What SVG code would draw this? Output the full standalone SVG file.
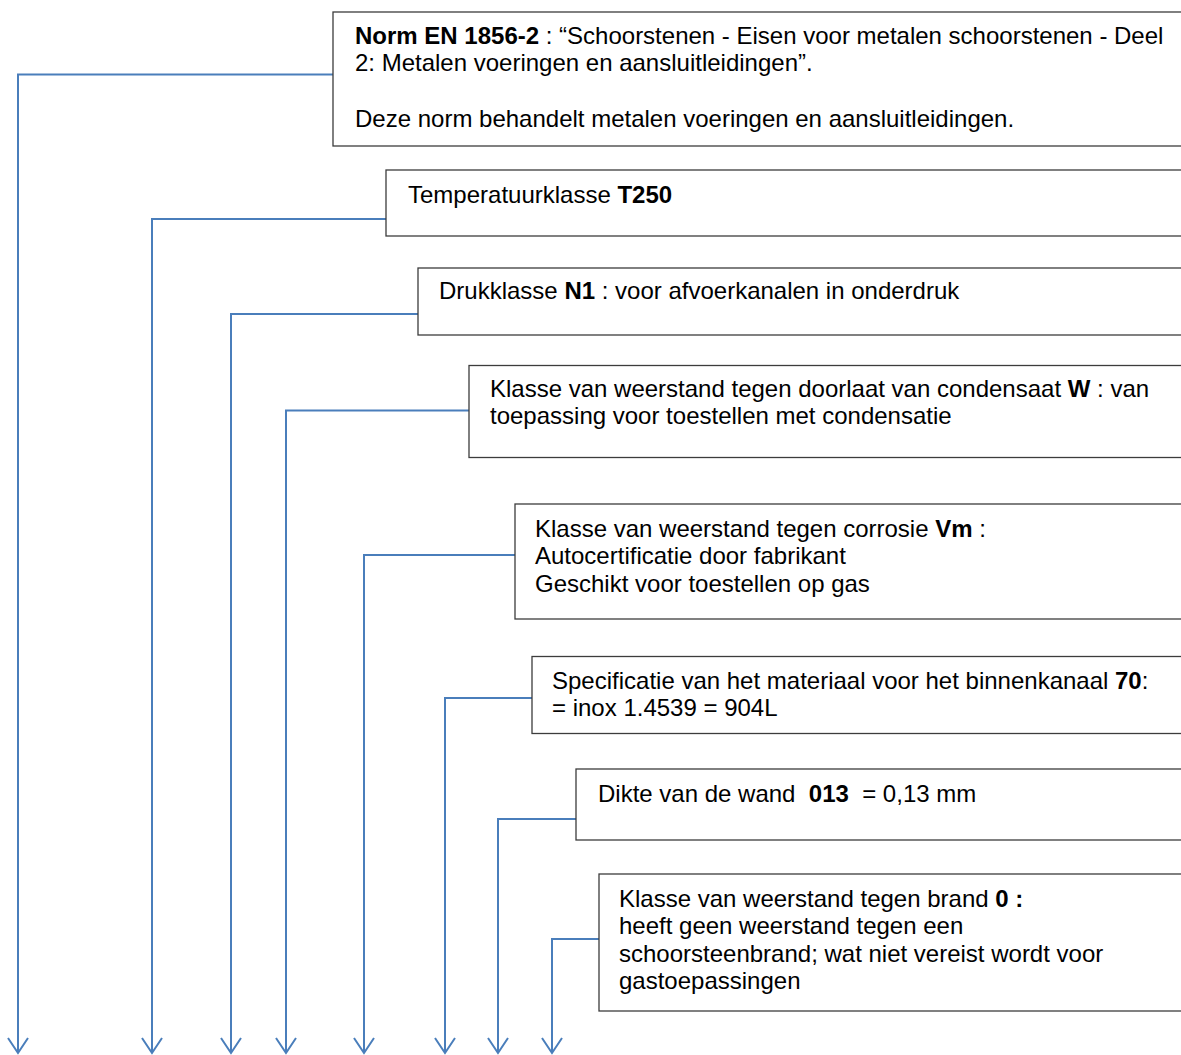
<svg xmlns="http://www.w3.org/2000/svg" width="1181" height="1055" viewBox="0 0 1181 1055">
<style>
.box{fill:#ffffff;stroke:#3c3c3c;stroke-width:1.3}
.t{font-family:"Liberation Sans",Arial,sans-serif;font-size:24px;fill:#000;white-space:pre}
.b{font-weight:bold}
.c{fill:none;stroke:#4a7ebb;stroke-width:2}
</style>
<defs>
<marker id="arr" markerUnits="userSpaceOnUse" viewBox="-1 -11 18 22" markerWidth="18" markerHeight="22" refX="15" refY="0" orient="auto">
<path d="M0,-10 L15,0 L0,10" fill="none" stroke="#4a7ebb" stroke-width="2"/>
</marker>
</defs>
<rect width="1181" height="1055" fill="#ffffff"/>
<g id="connectors">
<path class="c" d="M333,74.5 H18 V1053" marker-end="url(#arr)"/>
<path class="c" d="M386,219 H152 V1053" marker-end="url(#arr)"/>
<path class="c" d="M418,314 H231 V1053" marker-end="url(#arr)"/>
<path class="c" d="M469,410.5 H286 V1053" marker-end="url(#arr)"/>
<path class="c" d="M515,555 H364 V1053" marker-end="url(#arr)"/>
<path class="c" d="M532,698 H445 V1053" marker-end="url(#arr)"/>
<path class="c" d="M576,819 H498 V1053" marker-end="url(#arr)"/>
<path class="c" d="M599,939 H552 V1053" marker-end="url(#arr)"/>
</g>
<g id="norm">
<rect class="box" x="333" y="12" width="900" height="134"/>
<text class="t" x="355" y="43.5"><tspan class="b">Norm EN 1856-2</tspan> : “Schoorstenen - Eisen voor metalen schoorstenen - Deel</text>
<text class="t" x="355" y="71">2: Metalen voeringen en aansluitleidingen”.</text>
<text class="t" x="355" y="126.5">Deze norm behandelt metalen voeringen en aansluitleidingen.</text>
</g>
<g id="temperatuur">
<rect class="box" x="386" y="170" width="850" height="66"/>
<text class="t" x="408" y="203">Temperatuurklasse <tspan class="b">T250</tspan></text>
</g>
<g id="druk">
<rect class="box" x="418" y="268" width="820" height="67"/>
<text class="t" x="439" y="299">Drukklasse <tspan class="b">N1</tspan> : voor afvoerkanalen in onderdruk</text>
</g>
<g id="condensaat">
<rect class="box" x="469" y="365.5" width="770" height="92"/>
<text class="t" x="490" y="396.5">Klasse van weerstand tegen doorlaat van condensaat <tspan class="b">W</tspan> : van</text>
<text class="t" x="490" y="424">toepassing voor toestellen met condensatie</text>
</g>
<g id="corrosie">
<rect class="box" x="515" y="504" width="720" height="115"/>
<text class="t" x="535" y="536.5">Klasse van weerstand tegen corrosie <tspan class="b">Vm</tspan> :</text>
<text class="t" x="535" y="564">Autocertificatie door fabrikant</text>
<text class="t" x="535" y="591.5">Geschikt voor toestellen op gas</text>
</g>
<g id="materiaal">
<rect class="box" x="532" y="656.5" width="700" height="77"/>
<text class="t" x="552" y="688.5">Specificatie van het materiaal voor het binnenkanaal <tspan class="b">70</tspan>:</text>
<text class="t" x="552" y="716">= inox 1.4539 = 904L</text>
</g>
<g id="wand">
<rect class="box" x="576" y="769" width="660" height="71"/>
<text class="t" x="598" y="801.5">Dikte van de wand  <tspan class="b">013</tspan>  = 0,13 mm</text>
</g>
<g id="brand">
<rect class="box" x="599" y="874" width="640" height="137"/>
<text class="t" x="619" y="906.5">Klasse van weerstand tegen brand <tspan class="b">0 :</tspan></text>
<text class="t" x="619" y="934">heeft geen weerstand tegen een</text>
<text class="t" x="619" y="961.5">schoorsteenbrand; wat niet vereist wordt voor</text>
<text class="t" x="619" y="989">gastoepassingen</text>
</g>
</svg>
